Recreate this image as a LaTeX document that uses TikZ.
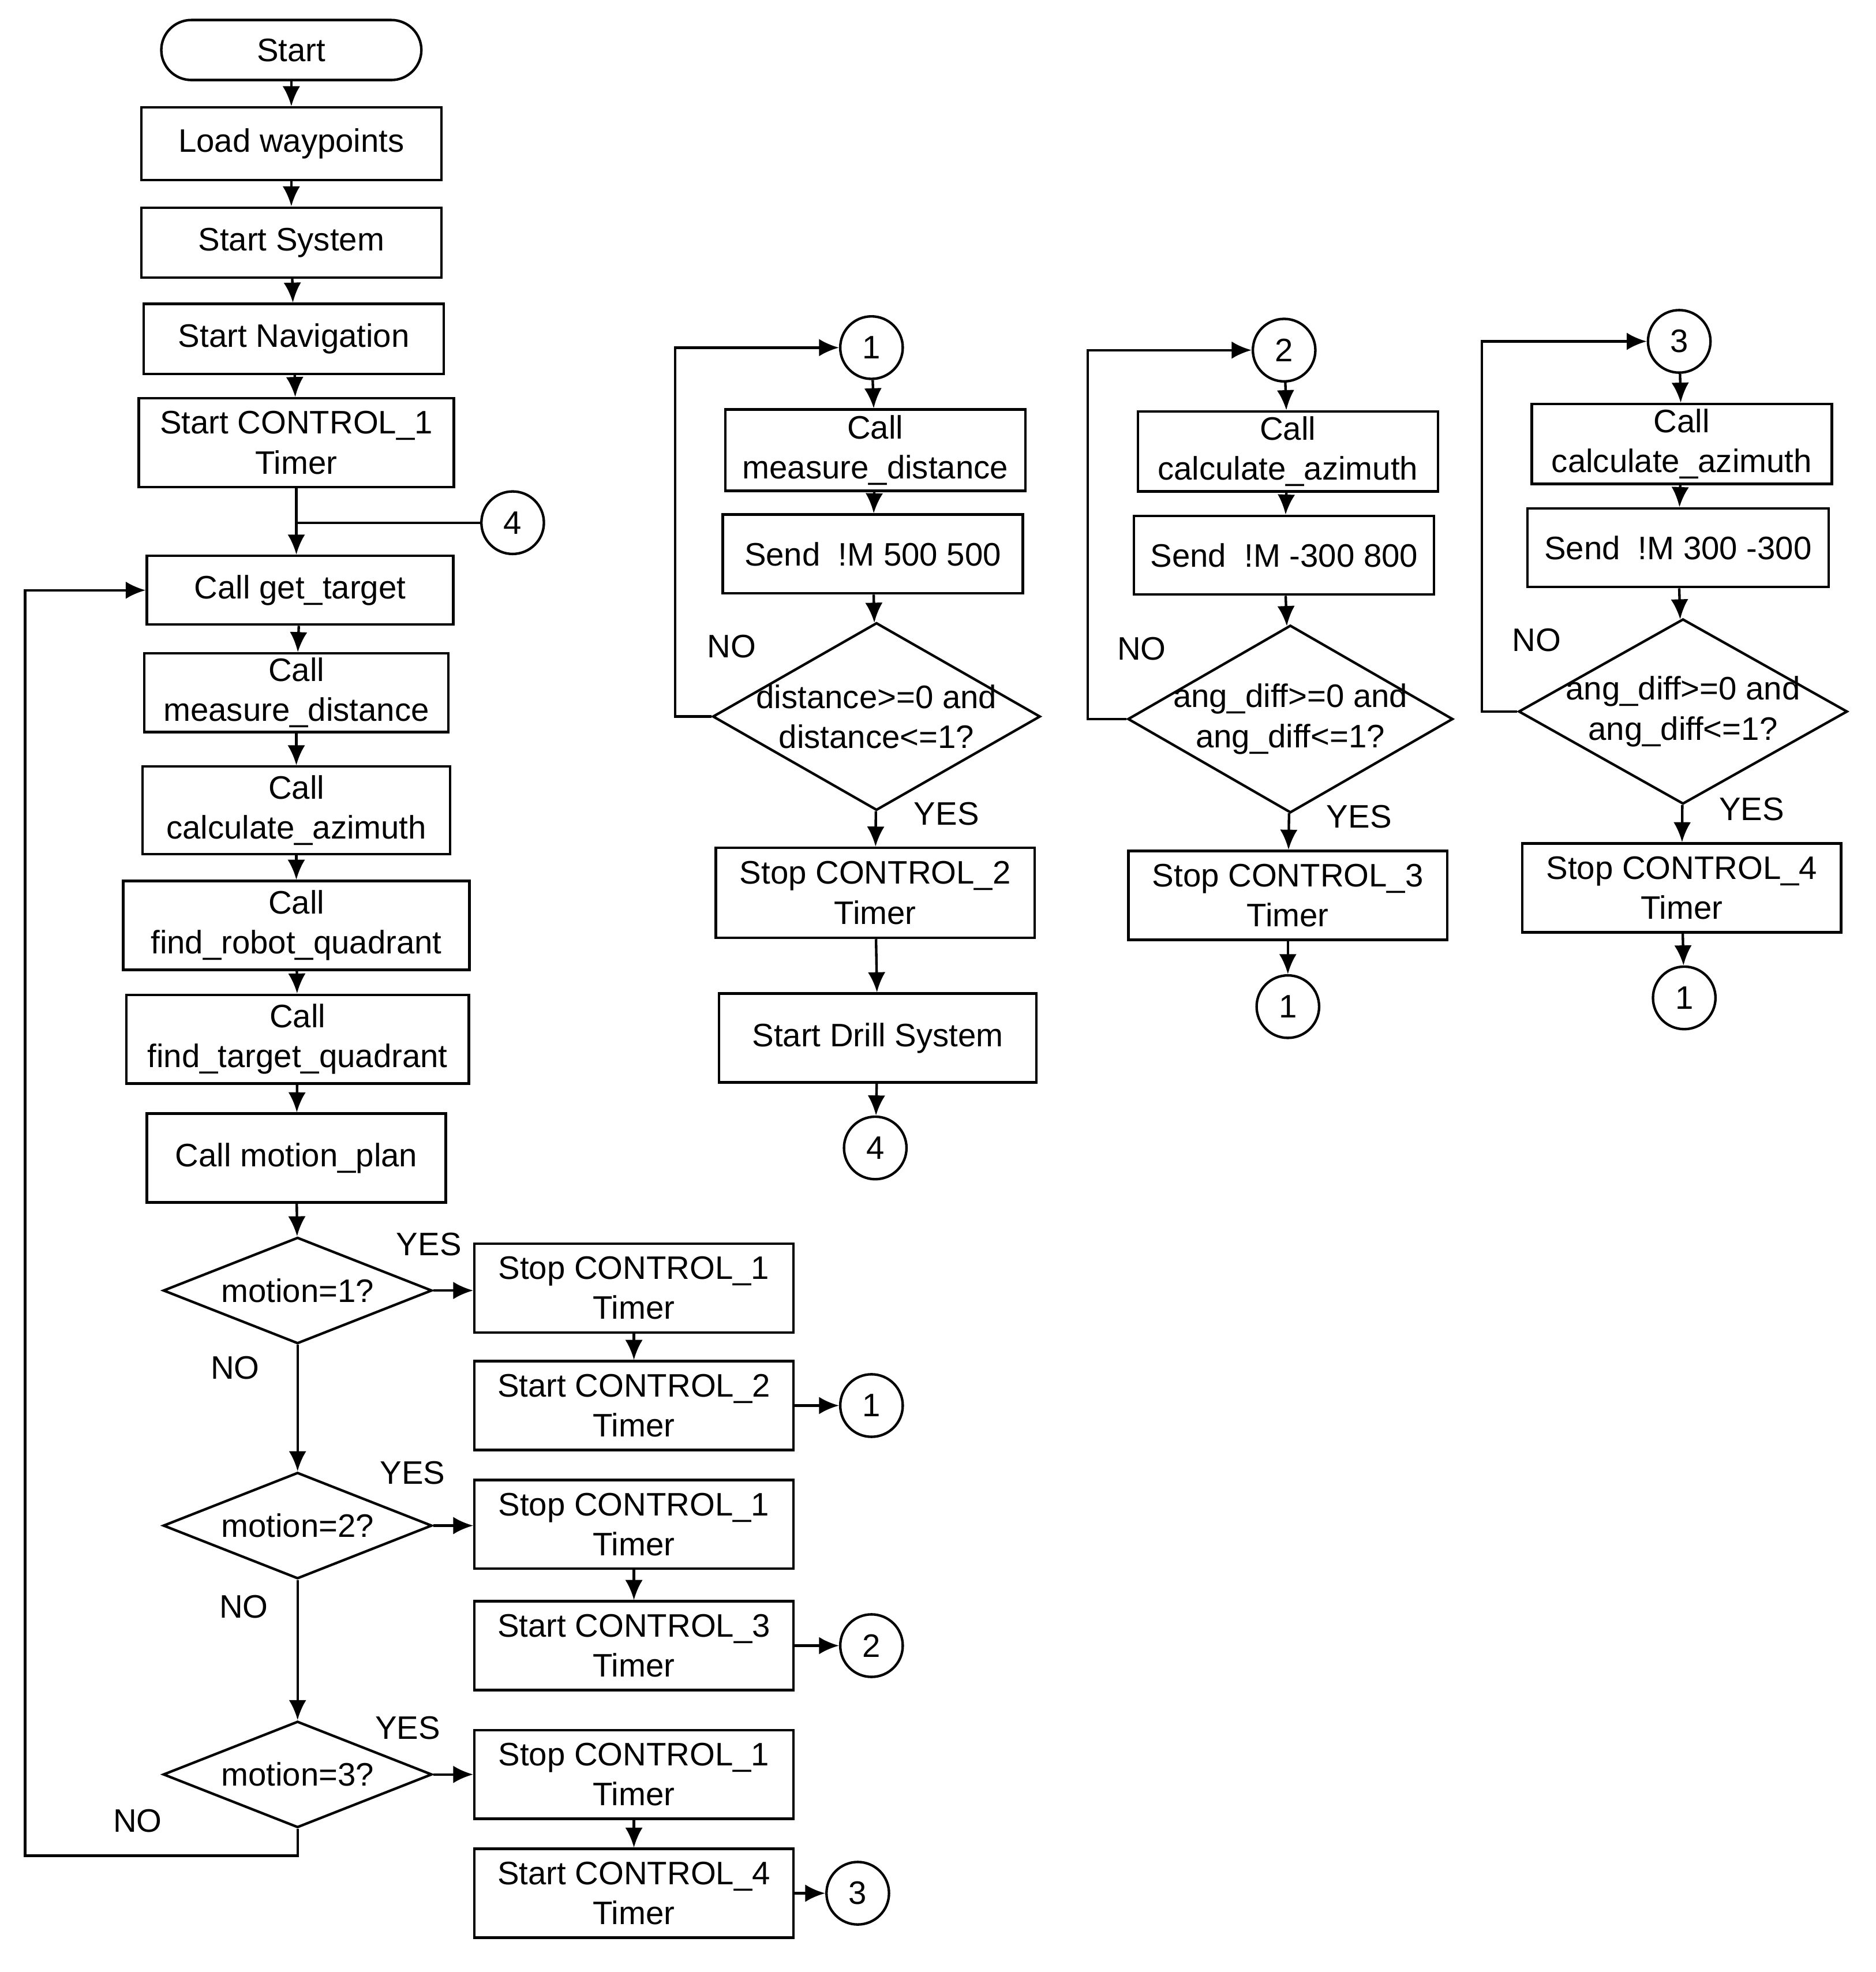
\documentclass[tikz,border=0pt]{standalone}
\usepackage{fontspec}
\setmainfont{Liberation Sans}
\usetikzlibrary{shapes.geometric,arrows.meta}
\newcommand{\ff}{\fontsize{13}{16}\selectfont}
\begin{document}
\begin{tikzpicture}[x=0.5pt,y=-0.5pt,
  every path/.style={line width=1pt},
  box/.style={draw,line width=1pt,align=center,inner sep=0pt,font=\ff,minimum width=#1},
  box/.default=120pt,
  circ/.style={circle,draw,line width=1pt,minimum size=25pt,inner sep=0pt,font=\ff},
  dia/.style={diamond,draw,line width=1pt,inner sep=0pt},
  lab/.style={font=\ff,inner sep=0pt},
  arr/.style={-{Latex[length=8pt,width=7pt]}}]
\fill[white] (0,0) rectangle (1500,1577);
\useasboundingbox (0,0) rectangle (1500,1577);
% left column
\node[box=104pt,minimum height=24pt,rounded corners=12pt] (st) at (233,40) {Start};
\node[box=120pt,minimum height=29pt] (lw) at (233,115) {Load waypoints};
\node[box=120pt,minimum height=28pt] (ss) at (233,194) {Start System};
\node[box=120pt,minimum height=28pt] (sn) at (235,271) {Start Navigation};
\node[box=126pt,minimum height=35.5pt] (c1) at (237,354) {Start CONTROL\_1\\Timer};
\node[circ] (k4) at (410,418) {4};
\node[box=122.5pt,minimum height=27.5pt] (gt) at (240,472) {Call get\_target};
\node[box=121.5pt,minimum height=31.5pt] (md) at (237,554) {Call\\measure\_distance};
\node[box=123pt,minimum height=35pt] (ca) at (237,648) {Call\\calculate\_azimuth};
\node[box=138.5pt,minimum height=35.5pt] (fr) at (237,740) {Call\\find\_robot\_quadrant};
\node[box=137pt,minimum height=35.5pt] (ft) at (238,831) {Call\\find\_target\_quadrant};
\node[box=119.5pt,minimum height=35.5pt] (mp) at (237,926) {Call motion\_plan};
\foreach \i/\y in {1/1032,2/1220,3/1419}{
  \node[dia,minimum width=107.5pt,minimum height=42.5pt] (d\i) at (238,\y) {};
  \node[lab] at (238,\y) {motion=\i?};}
\node[box=127.5pt,minimum height=35.5pt] (p1) at (507,1030) {Stop CONTROL\_1\\Timer};
\node[box=127.5pt,minimum height=35.5pt] (q1) at (507,1124) {Start CONTROL\_2\\Timer};
\node[box=127.5pt,minimum height=35.5pt] (p2) at (507,1219) {Stop CONTROL\_1\\Timer};
\node[box=127.5pt,minimum height=35.5pt] (q2) at (507,1316) {Start CONTROL\_3\\Timer};
\node[box=127.5pt,minimum height=35.5pt] (p3) at (507,1419) {Stop CONTROL\_1\\Timer};
\node[box=127.5pt,minimum height=35.5pt] (q3) at (507,1514) {Start CONTROL\_4\\Timer};
\node[circ] (e1) at (697,1124) {1};
\node[circ] (e2) at (697,1316) {2};
\node[circ] (e3) at (686,1514) {3};
\draw[arr] (st) -- (lw);
\draw[arr] (lw) -- (ss);
\draw[arr] (ss) -- (sn);
\draw[arr] (sn) -- (c1);
\draw[arr] (c1.south) -- (c1.south |- gt.north);
\coordinate (j) at (c1.south |- k4);
\draw (j) -- (k4);
\draw[arr] (gt) -- (md);
\draw[arr] (md) -- (ca);
\draw[arr] (ca) -- (fr);
\draw[arr] (fr) -- (ft);
\draw[arr] (ft) -- (mp);
\draw[arr] (mp) -- (d1);
\draw[arr] (d1) -- (d2);
\draw[arr] (d2) -- (d3);
\foreach \i in {1,2,3}{
  \draw[arr] (d\i.east) -- (p\i.west |- d\i.east);
  \draw[arr] (p\i) -- (q\i);
  \draw[arr] (q\i) -- (e\i);}
\coordinate (lb) at (20,1484);
\draw[arr] (d3.south) -- (d3.south |- lb) -- (lb) -- (lb |- gt) -- (gt.west);
\node[lab] at (343,995) {YES};
\node[lab] at (188,1094) {NO};
\node[lab] at (330,1178) {YES};
\node[lab] at (195,1285) {NO};
\node[lab] at (326,1382) {YES};
\node[lab] at (110,1456) {NO};
% column 2
\node[circ] (a0) at (697,278) {1};
\node[box=120pt,minimum height=32.5pt] (a1) at (700,360) {Call\\measure\_distance};
\node[box=120pt,minimum height=31.5pt] (a2) at (698,443) {Send~~!M 500 500};
\node[dia,minimum width=131pt,minimum height=75pt] (a3) at (701,573) {};
\node[lab,align=center] at (701,573) {distance>=0 and\\distance<=1?};
\node[box=127.5pt,minimum height=36pt] (a4) at (700,714) {Stop CONTROL\_2\\Timer};
\node[box=127pt,minimum height=35.5pt] (a5) at (702,830) {Start Drill System};
\node[circ] (a6) at (700,918) {4};
\draw[arr] (a0) -- (a1);
\draw[arr] (a1) -- (a2);
\draw[arr] (a2) -- (a3);
\draw[arr] (a3) -- (a4);
\draw[arr] (a4) -- (a5);
\draw[arr] (a5) -- (a6);
\coordinate (la) at (540,573);
\draw[arr] (a3.west) -- (la) -- (la |- a0) -- (a0.west);
\node[lab] at (585,517) {NO};
\node[lab] at (757,651) {YES};
% column 3
\node[circ] (b0) at (1027,280) {2};
\node[box=120pt,minimum height=32pt] (b1) at (1030,361) {Call\\calculate\_azimuth};
\node[box=120pt,minimum height=31.5pt] (b2) at (1027,444) {Send~~!M -300 800};
\node[dia,minimum width=130pt,minimum height=75pt] (b3) at (1032,575) {};
\node[lab,align=center] at (1032,575) {ang\_diff>=0 and\\ang\_diff<=1?};
\node[box=127.5pt,minimum height=35.5pt] (b4) at (1030,716) {Stop CONTROL\_3\\Timer};
\node[circ] (b5) at (1030,805) {1};
\draw[arr] (b0) -- (b1);
\draw[arr] (b1) -- (b2);
\draw[arr] (b2) -- (b3);
\draw[arr] (b3) -- (b4);
\draw[arr] (b4) -- (b5);
\coordinate (lbb) at (870,575);
\draw[arr] (b3.west) -- (lbb) -- (lbb |- b0) -- (b0.west);
\node[lab] at (913,519) {NO};
\node[lab] at (1087,653) {YES};
% column 4
\node[circ] (c0) at (1343,273) {3};
\node[box=120pt,minimum height=32pt] (cc1) at (1345,355) {Call\\calculate\_azimuth};
\node[box=120.5pt,minimum height=31.5pt] (cc2) at (1342,438) {Send~~!M 300 -300};
\node[dia,minimum width=131.5pt,minimum height=74pt] (cc3) at (1346,569) {};
\node[lab,align=center] at (1346,569) {ang\_diff>=0 and\\ang\_diff<=1?};
\node[box=127.5pt,minimum height=35.5pt] (cc4) at (1345,710) {Stop CONTROL\_4\\Timer};
\node[circ] (cc5) at (1347,798) {1};
\draw[arr] (c0) -- (cc1);
\draw[arr] (cc1) -- (cc2);
\draw[arr] (cc2) -- (cc3);
\draw[arr] (cc3) -- (cc4);
\draw[arr] (cc4) -- (cc5);
\coordinate (lc) at (1185,569);
\draw[arr] (cc3.west) -- (lc) -- (lc |- c0) -- (c0.west);
\node[lab] at (1229,512) {NO};
\node[lab] at (1401,647) {YES};
\end{tikzpicture}
\end{document}
